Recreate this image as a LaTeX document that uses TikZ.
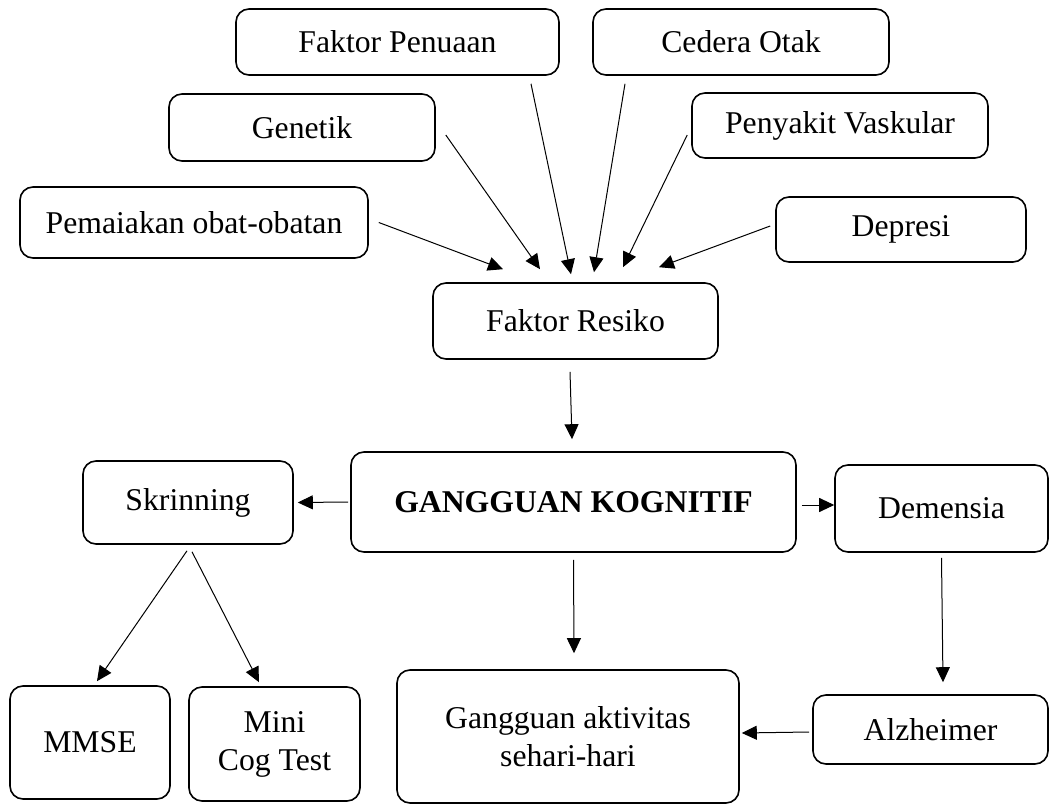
\documentclass[tikz,border=0pt]{standalone}
\usepackage{fontspec}
\setmainfont{Liberation Serif}
\usetikzlibrary{arrows.meta}

\begin{document}
\begin{tikzpicture}[x = 1pt, y = -1pt,
	kotak/.style = {draw, line width = 1.6pt, rounded corners = 13pt, align = center,
		inner sep = 0pt, font = \fontsize{31.7}{38}\selectfont},
	panah/.style = {-{Triangle[length = 15pt, width = 14pt]}, line width = 1pt}]
	\useasboundingbox (0, 0) rectangle (1052, 805);
	\node[kotak, minimum width = 323pt, minimum height = 66pt] (penuaan) at (397.5, 42) {Faktor Penuaan};
	\node[kotak, minimum width = 296pt, minimum height = 66pt] (cedera) at (741, 42) {Cedera Otak};
	\node[kotak, minimum width = 266pt, minimum height = 67pt] (genetik) at (302, 127.5) {Genetik};
	\node[kotak, minimum width = 296pt, minimum height = 65pt] (vaskular) at (840, 125.5) {Penyakit Vaskular};
	\node[kotak, minimum width = 348pt, minimum height = 71pt] (obat) at (194, 222.5) {Pemaiakan obat-obatan};
	\node[kotak, minimum width = 250pt, minimum height = 65pt] (depresi) at (901, 229.5) {Depresi};
	\node[kotak, minimum width = 285pt, minimum height = 76pt] (resiko) at (575.5, 321) {Faktor Resiko};
	\node[kotak, minimum width = 210pt, minimum height = 83pt] (skrinning) at (188, 502.5) {Skrinning};
	\node[kotak, minimum width = 445pt, minimum height = 100pt] (kognitif) at (573.5, 502) {\textbf{GANGGUAN KOGNITIF}};
	\node[kotak, minimum width = 213pt, minimum height = 87pt] (demensia) at (941.5, 508.5) {Demensia};
	\node[kotak, minimum width = 160pt, minimum height = 113pt] (mmse) at (90, 742.5) {MMSE};
	\node[kotak, minimum width = 171pt, minimum height = 114pt] (minicog) at (274.5, 744) {Mini\\Cog Test};
	\node[kotak, minimum width = 342pt, minimum height = 133pt] (aktivitas) at (568, 736.5) {Gangguan aktivitas\\sehari-hari};
	\node[kotak, minimum width = 235pt, minimum height = 69pt] (alzheimer) at (930.5, 729.5) {Alzheimer};
	\draw[panah] ([xshift = 10pt]obat.east) -- ([xshift = -72.5pt, yshift = 13pt]resiko.north);
	\draw[panah] ([xshift = 10pt, yshift = -7.5pt]genetik.east) -- ([xshift = -35.5pt, yshift = 13pt]resiko.north);
	\draw[panah] ([xshift = 133.5pt, yshift = -8pt]penuaan.south) -- ([xshift = -4.5pt, yshift = 8pt]resiko.north);
	\draw[panah] ([xshift = -116pt, yshift = -8pt]cedera.south) -- ([xshift = 18.5pt, yshift = 10pt]resiko.north);
	\draw[panah] ([xshift = -4pt, yshift = -9.5pt]vaskular.west) -- ([xshift = 47.5pt, yshift = 15pt]resiko.north);
	\draw[panah] ([xshift = -5pt, yshift = 3.5pt]depresi.west) -- ([xshift = 83.5pt, yshift = 15pt]resiko.north);
	\draw[panah] ([xshift = -5.5pt, yshift = -12pt]resiko.south) -- ([xshift = -1.5pt, yshift = 12pt]kognitif.north);
	\draw[panah] ([xshift = -2pt]kognitif.west) -- ([xshift = 4pt]skrinning.east);
	\draw[panah] ([xshift = 5pt, yshift = -3pt]kognitif.east) -- ([yshift = 3.5pt]demensia.west);
	\draw[panah] ([xshift = -1pt, yshift = -6pt]skrinning.south) -- ([xshift = 7pt, yshift = 4pt]mmse.north);
	\draw[panah] ([xshift = 4pt, yshift = -7pt]skrinning.south) -- ([xshift = -15.5pt, yshift = 4pt]minicog.north);
	\draw[panah] ([yshift = -7pt]kognitif.south) -- ([xshift = 6pt, yshift = 16pt]aktivitas.north);
	\draw[panah] ([yshift = -5pt]demensia.south) -- ([xshift = 12.5pt, yshift = 12pt]alzheimer.north);
	\draw[panah] ([xshift = -3pt, yshift = -2.5pt]alzheimer.west) -- ([xshift = 2pt, yshift = 3.5pt]aktivitas.east);
\end{tikzpicture}
\end{document}
